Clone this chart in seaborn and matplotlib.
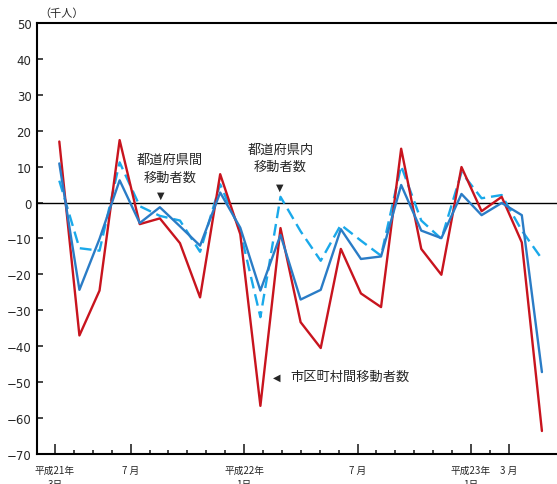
import pandas as pd
import matplotlib
matplotlib.use('Agg')
import matplotlib.pyplot as plt
import seaborn as sns

# 平成21年3月 ～ 平成23年3月 (25か月)
months = list(range(25))

# 市区町村間移動者数 (千人)
shikuchoson = [17.0, -37.0, -24.5, 17.4, -6.0, -4.4, -11.3, -26.4, 7.9, -8.8,
               -56.6, -7.1, -33.3, -40.5, -12.9, -25.3, -29.1, 15.0, -12.9, -20.1,
               9.9, -2.4, 1.6, -11.1, -63.6]
# 都道府県間移動者数
todofuken_kan = [10.9, -24.3, -10.1, 6.2, -5.7, -1.3, -6.6, -12.0, 2.8, -7.0,
                 -24.5, -9.0, -27.0, -24.3, -7.4, -15.7, -15.0, 4.9, -7.8, -9.9,
                 2.4, -3.5, -0.1, -3.5, -47.2]
# 都道府県内移動者数
todofuken_nai = [6.1, -12.7, -13.4, 11.2, -1.0, -3.7, -5.0, -13.7, 5.1, -8.0,
                 -31.9, 1.6, -8.0, -16.2, -6.2, -10.6, -14.8, 10.2, -5.0, -10.1,
                 8.4, 1.2, 2.1, -7.8, -15.7]

tick_labels = {0: '平成21年\n3月', 4: '7 月', 10: '平成22年\n1月',
               16: '7 月', 22: '平成23年\n1月', 24: '3 月'}

df = pd.DataFrame({
    'month': months,
    'shikuchoson': shikuchoson,
    'kan': todofuken_kan,
    'nai': todofuken_nai,
})

sns.set_style('ticks')
plt.rcParams['font.family'] = ['Noto Sans CJK JP', 'DejaVu Sans']

fig = plt.figure(figsize=(5.57, 4.85), dpi=100)
ax = fig.add_axes([0.0664, 0.0619, 0.9336, 0.8886])

ax.axhline(0, color='black', lw=1.0, zorder=1)

sns.lineplot(x='month', y='nai', data=df, ax=ax, color='#1aa9ea', lw=1.7,
             dashes=False, zorder=2).lines[-1].set_dashes((5, 2.5))
sns.lineplot(x='month', y='shikuchoson', data=df, ax=ax, color='#c8141e', lw=1.7, zorder=3)
sns.lineplot(x='month', y='kan', data=df, ax=ax, color='#2a7cc6', lw=1.7, zorder=4)

ax.set_xlim(-1.11, 24.75)
ax.set_ylim(-70, 50)
ax.set_yticks(range(-70, 51, 10))
ax.tick_params(axis='y', direction='in', length=4, width=1.2, labelsize=8.5, pad=4,
               labelfontfamily='DejaVu Sans')

# 目盛りは月ごと (元図の横軸は少し詰まっている)
tick_step = 18.9 / 20.1
tick_off = -4.3 / 20.1
ax.set_xticks([m * tick_step + tick_off for m in months], minor=True)
ax.set_xticks([m * tick_step + tick_off for m in tick_labels])
ax.set_xticklabels(list(tick_labels.values()), fontsize=7, linespacing=1.5)
ax.tick_params(axis='x', which='major', direction='in', length=7, width=1.2, pad=8)
ax.tick_params(axis='x', which='minor', direction='in', length=3, width=1.2)
for m, lab in zip(tick_labels, ax.get_xticklabels()):
    if m in (4, 16, 24):
        lab.set_verticalalignment('top')

ax.set_xlabel('')
ax.set_ylabel('')
for s in ['left', 'top', 'bottom']:
    ax.spines[s].set_linewidth(1.5)
    ax.spines[s].set_color('black')
ax.spines['right'].set_visible(False)

# 注記
ax.text(5.5, 12.1, '都道府県間', ha='center', va='center', fontsize=9.5)
ax.text(5.5, 7.1, '移動者数', ha='center', va='center', fontsize=9.5)
ax.text(5.05, 2.1, '▼', ha='center', va='center', fontsize=7, family='DejaVu Sans')

ax.text(11.0, 14.9, '都道府県内', ha='center', va='center', fontsize=9.5)
ax.text(11.0, 10.0, '移動者数', ha='center', va='center', fontsize=9.5)
ax.text(10.98, 4.3, '▼', ha='center', va='center', fontsize=7, family='DejaVu Sans')

ax.text(10.83, -48.5, '◀', ha='center', va='center', fontsize=7, family='DejaVu Sans')
ax.text(11.48, -48.5, '市区町村間移動者数', ha='left', va='center', fontsize=9.5)

fig.text(0.11, 1 - 14 / 485, '（千人）', ha='center', va='center', fontsize=8)

fig.savefig('out.png', dpi=100)
